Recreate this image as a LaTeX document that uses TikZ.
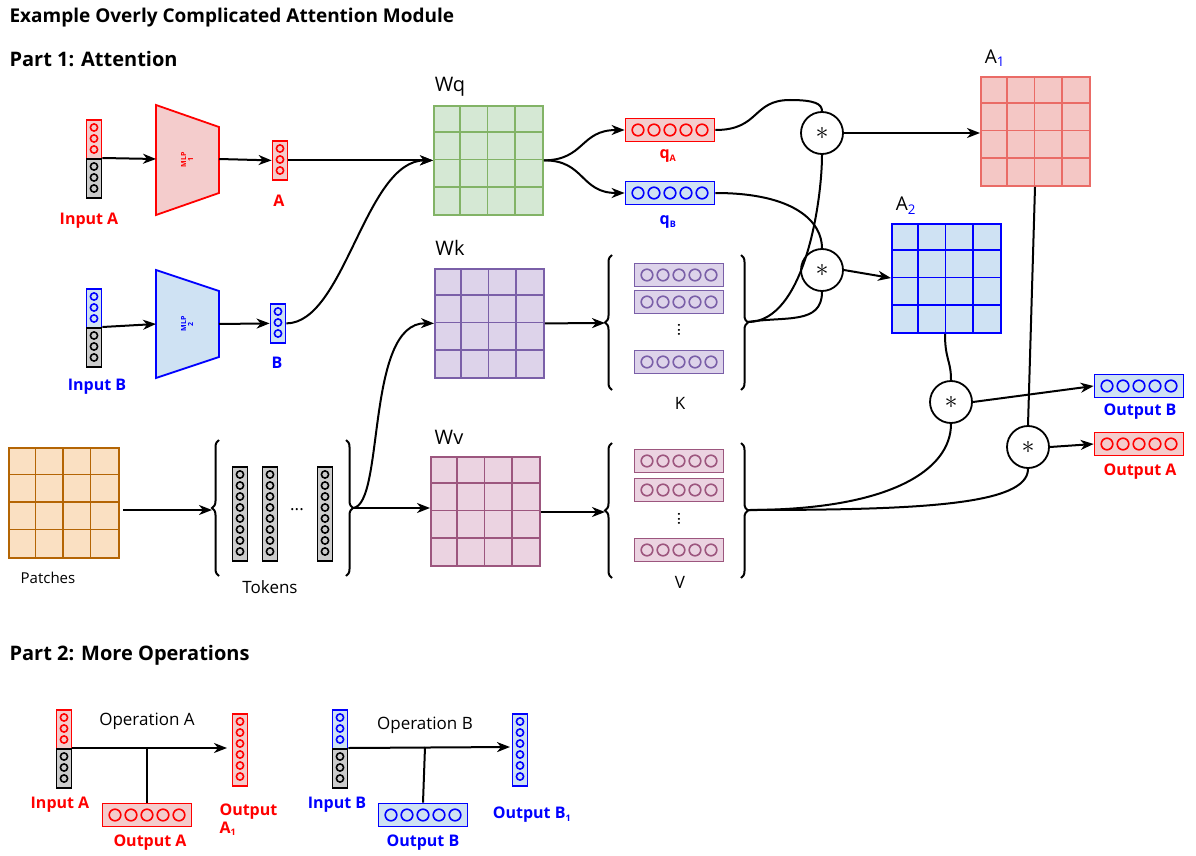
\documentclass[tikz,border=0pt]{standalone}
\usepackage{fontspec}
\setmainfont{Open Sans}
\usetikzlibrary{arrows.meta,decorations.pathreplacing}
\definecolor{cred}{HTML}{FF0000}
\definecolor{credf}{HTML}{F4CCCC}
\definecolor{cblue}{HTML}{0000FF}
\definecolor{cbluef}{HTML}{CFE2F3}
\definecolor{cgray}{HTML}{CCCCCC}
\definecolor{gstroke}{HTML}{82B366}
\definecolor{gfill}{HTML}{D5E8D4}
\definecolor{pstroke}{HTML}{7A5FA8}
\definecolor{pfill}{HTML}{DDD3EA}
\definecolor{mstroke}{HTML}{9C567E}
\definecolor{mfill}{HTML}{EBD3E1}
\definecolor{a1stroke}{HTML}{EA6B66}
\definecolor{a1fill}{HTML}{F4C7C5}
\definecolor{tstroke}{HTML}{B46504}
\definecolor{tfill}{HTML}{FAE0C2}
\tikzset{
 ln/.style={line width=2pt,black},
 arr/.style={ln,-{Stealth[length=13pt,width=10pt,inset=4pt]}},
 brc/.style={ln,decorate,decoration={brace,amplitude=7pt}},
 lab/.style={font=\fontsize{16}{18}\selectfont\bfseries},
 txt/.style={font=\fontsize{17}{20}\selectfont},
 head/.style={font=\fontsize{20}{24}\selectfont\bfseries,anchor=west},
 star/.style={circle,draw,line width=1.8pt,fill=white,minimum size=42pt,inner sep=0pt},
}
% vertical vector: name, cx, ytop, n, stroke, fill
\newcommand\myvv[6]{%
 \pgfmathsetmacro\hh{#4*11+6}%
 \node[draw=#5,fill=#6,line width=1.8pt,minimum width=15pt,minimum height=\hh pt,inner sep=0pt,anchor=north] (#1) at (#2,#3) {};
 \foreach \k in {1,...,#4}{\draw[#5,line width=1.6pt] (#2,#3+\k*11-2.5) circle[radius=3.6pt];}}
% horizontal vector: name, cx, cy, stroke, fill
\newcommand\myhv[5]{%
 \node[draw=#4,fill=#5,line width=1.8pt,minimum width=89pt,minimum height=23pt,inner sep=0pt] (#1) at (#2,#3) {};
 \foreach \k in {-2,...,2}{\draw[#4,line width=1.6pt] (#2+\k*16,#3) circle[radius=5.8pt];}}
% grid: name, x1, y1, size, stroke, fill
\newcommand\mygrid[6]{%
 \node[draw=#5,fill=#6,line width=1.8pt,minimum width=#4pt,minimum height=#4pt,inner sep=0pt,anchor=north west] (#1) at (#2,#3) {};
 \foreach \k in {1,2,3}{\draw[#5,line width=1.8pt] (#2+\k*#4/4,#3) -- ++(0,#4) (#2,#3+\k*#4/4) -- ++(#4,0);}}
\begin{document}
\begin{tikzpicture}[x=1pt,y=-1pt]
\useasboundingbox (0,0) rectangle (1196,856);
\node[head,font=\fontsize{19}{24}\selectfont\bfseries] (t0) at (6,18) {Example Overly Complicated Attention Module};
\node[head] (t1) at (6,59) {Part 1: Attention};
\node[head] (t2) at (6,655) {Part 2: More Operations};
% inputs
\myvv{iAr}{94}{119}{3}{cred}{credf}
\myvv{iAk}{94}{158}{3}{black}{cgray}
\node[lab,text=cred] (lA) at (89,221) {Input A};
\myvv{iBr}{94}{288}{3}{cblue}{cbluef}
\myvv{iBk}{94}{327}{3}{black}{cgray}
\node[lab,text=cblue] (lB) at (97,387) {Input B};
% MLPs
\draw[cred,fill=credf,line width=1.8pt] (156,105) -- (219,127) -- (219,193) -- (156,215) -- cycle;
\node[rotate=90,text=cred,font=\fontsize{7}{7}\selectfont\bfseries,align=center] (m1) at (187,160) {MLP\\1};
\draw[cblue,fill=cbluef,line width=1.8pt] (156,270) -- (219,291) -- (219,357) -- (156,378) -- cycle;
\node[rotate=90,text=cblue,font=\fontsize{7}{7}\selectfont\bfseries,align=center] (m2) at (187,324) {MLP\\2};
\coordinate (m1w) at (156,159); \coordinate (m1e) at (219,159);
\coordinate (m2w) at (156,324); \coordinate (m2e) at (219,324);
\draw[arr] (iAk.north east) -- (m1w);
\draw[arr] (iBk.north east) -- (m2w);
\myvv{vA}{280}{140}{3}{cred}{credf}
\myvv{vB}{278}{303}{3}{cblue}{cbluef}
\node[lab,text=cred] (lvA) at (279,201) {A};
\node[lab,text=cblue] (lvB) at (277,363) {B};
\draw[arr] (m1e) -- (vA.west);
\draw[arr] (m2e) -- (vB.west);
% grids
\mygrid{Wq}{433}{105}{109}{gstroke}{gfill}
\mygrid{Wk}{434}{268}{109}{pstroke}{pfill}
\mygrid{Wv}{430}{456}{109}{mstroke}{mfill}
\mygrid{A1}{980}{76}{109}{a1stroke}{a1fill}
\mygrid{A2}{891}{223}{109}{cblue}{cbluef}
\mygrid{P}{8}{447}{110}{tstroke}{tfill}
\node[font=\fontsize{20}{24}\selectfont] (lWq) at (450,87) {Wq};
\node[font=\fontsize{20}{24}\selectfont] (lWk) at (450,248) {Wk};
\node[font=\fontsize{20}{24}\selectfont] (lWv) at (449,437) {Wv};
\node[font=\fontsize{19}{22}\selectfont] (lA1) at (995,58) {A\textsubscript{\textcolor{cblue}{1}}};
\node[font=\fontsize{19}{22}\selectfont] (lA2) at (906,206) {A\textsubscript{\textcolor{cblue}{2}}};
\node[font=\fontsize{15}{18}\selectfont] (lP) at (48,578) {Patches};
\draw[arr] (vA.east) -- (Wq.west|-vA.east);
\draw[arr] (vB.east) .. controls (345,323) and (365,160) .. (Wq.west|-vA.east);
% q vectors
\myhv{qA}{670}{130}{cred}{credf}
\myhv{qB}{670}{193}{cblue}{cbluef}
\node[lab,text=cred] (lqA) at (668,156) {q\textsubscript{\fontsize{9}{9}\selectfont A}};
\node[lab,text=cblue] (lqB) at (668,222) {q\textsubscript{\fontsize{9}{9}\selectfont B}};
\draw[arr] (Wq.east) .. controls (585,160) and (580,130) .. (qA.west);
\draw[arr] (Wq.east) .. controls (585,160) and (580,193) .. (qB.west);
% tokens
\draw[brc] (219,576) -- (219,440);
\draw[brc] (346,440) -- (346,576);
\coordinate (tokL) at (212,510); \coordinate (tokR) at (353,508);
\myvv{tk1}{240}{466}{8}{black}{cgray}
\myvv{tk2}{270}{466}{8}{black}{cgray}
\myvv{tk3}{325}{466}{8}{black}{cgray}
\node[txt] (tdots) at (297,510) {...};
\node[txt] (lTok) at (270,587) {Tokens};
\coordinate (pe) at (123,510);
\draw[arr] (pe) -- (tokL);
\draw[arr] (tokR) -- (Wv.west|-tokR);
\draw[arr] (tokR) .. controls (385,505) and (365,322) .. (Wk.west);
% K group
\draw[brc] (612,390) -- (612,255);
\draw[brc] (741,255) -- (741,390);
\coordinate (KL) at (605,323); \coordinate (KR) at (748,322);
\myhv{k1}{679}{275}{pstroke}{pfill}
\myhv{k2}{679}{302}{pstroke}{pfill}
\myhv{k3}{679}{362}{pstroke}{pfill}
\node[font=\fontsize{16}{16}\selectfont] (kd) at (679,330) {\rotatebox{90}{...}};
\node[txt] (lK) at (680,403) {K};
\draw[arr] (Wk.east) -- (KL);
% V group
\draw[brc] (612,578) -- (612,443);
\draw[brc] (741,443) -- (741,578);
\coordinate (VL) at (605,512); \coordinate (VR) at (748,510);
\myhv{v1}{679}{461}{mstroke}{mfill}
\myhv{v2}{679}{490}{mstroke}{mfill}
\myhv{v3}{679}{550}{mstroke}{mfill}
\node[font=\fontsize{16}{16}\selectfont] (vd) at (679,519) {\rotatebox{90}{...}};
\node[txt] (lV) at (680,582) {V};
\draw[arr] (Wv.east|-VL) -- (VL);
% stars
\node[star] (s1) at (822,133) {\scalebox{2.6}{$\ast$}};
\node[star] (s2) at (822,270) {\scalebox{2.6}{$\ast$}};
\node[star] (s3) at (951,402) {\scalebox{2.6}{$\ast$}};
\node[star] (s4) at (1028,447) {\scalebox{2.6}{$\ast$}};
\draw[ln] (qA.east) .. controls (760,130) and (752,100) .. (790,100) .. controls (815,100) and (822,104) .. (s1.north);
\draw[ln] (qB.east) .. controls (795,193) and (822,222) .. (s2.north);
\draw[ln] (KR) .. controls (805,322) and (822,200) .. (s1.south);
\draw[ln] (KR) .. controls (785,316) and (822,325) .. (s2.south);
\draw[arr] (s1.east) -- (A1.west|-s1.east);
\draw[arr] (s2.east) -- (A2.west|-0,278);
\draw[ln] (A2.south-|945,0) .. controls (945,360) and (951,360) .. (s3.north);
\draw[ln] (A1.south-|1035,0) -- (s4.north);
\draw[ln] (VR) .. controls (890,510) and (951,470) .. (s3.south);
\draw[ln] (VR) .. controls (920,510) and (1028,505) .. (s4.south);
\myhv{oB}{1139}{386}{cblue}{cbluef}
\myhv{oA}{1139}{444}{cred}{credf}
\node[lab,text=cblue] (loB) at (1140,412) {Output B};
\node[lab,text=cred] (loA) at (1140,472) {Output A};
\draw[arr] (s3.east) -- (oB.west);
\draw[arr] (s4.east) -- (oA.west);
% Part 2 A
\myvv{pAr}{64}{709}{3}{cred}{credf}
\myvv{pAk}{64}{748}{3}{black}{cgray}
\myvv{pA1}{240}{713}{6}{cred}{credf}
\myhv{pOA}{147}{815}{cred}{credf}
\coordinate (pAend) at (227,748);
\draw[arr] (pAk.north east) -- (pAend);
\draw[ln] (147,748) -- (pOA.north);
\node[txt] (opA) at (147,721) {Operation A};
\node[lab,text=cred] (pIA) at (60,805) {Input A};
\node[lab,text=cred] (pOAl) at (150,843) {Output A};
\node[lab,text=cred,align=left,anchor=north west] (pA1l) at (216,800) {Output\\A\textsubscript{\fontsize{9}{9}\selectfont 1}};
% Part 2 B
\myvv{pBr}{340}{709}{3}{cblue}{cbluef}
\myvv{pBk}{340}{748}{3}{black}{cgray}
\myvv{pB1}{520}{713}{6}{cblue}{cbluef}
\myhv{pOB}{423}{815}{cblue}{cbluef}
\coordinate (pBend) at (510,747);
\draw[arr] (pBk.north east) -- (pBend);
\draw[ln] (425,747) -- (pOB.north);
\node[txt] (opB) at (425,725) {Operation B};
\node[lab,text=cblue] (pIB) at (337,805) {Input B};
\node[lab,text=cblue] (pOBl) at (423,843) {Output B};
\node[lab,text=cblue] (pB1l) at (532,815) {Output B\textsubscript{\fontsize{9}{9}\selectfont 1}};
\end{tikzpicture}
\end{document}
